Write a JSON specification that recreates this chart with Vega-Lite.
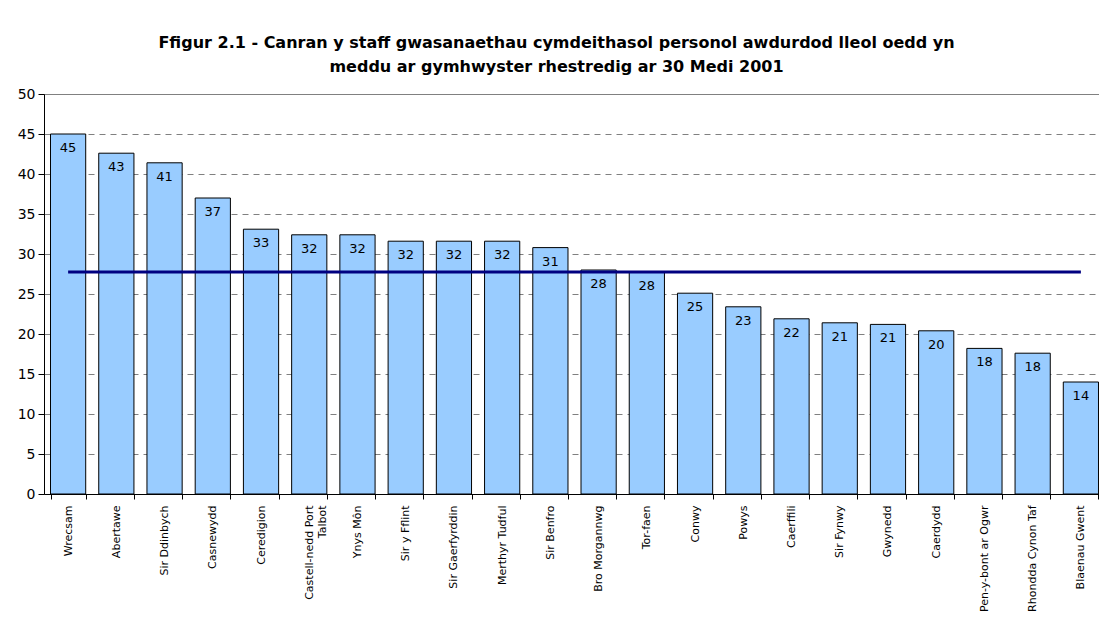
{
  "$schema": "https://vega.github.io/schema/vega-lite/v6.json",
  "autosize": "none",
  "width": 1061,
  "height": 400,
  "padding": {"left": 44, "top": 94, "right": 0, "bottom": 130},
  "background": "white",
  "config": {
    "font": "DejaVu Sans",
    "view": {"stroke": "#808080", "strokeWidth": 1}
  },
  "title": {
    "text": ["Ffigur 2.1 - Canran y staff gwasanaethau cymdeithasol personol awdurdod lleol oedd yn", "meddu ar gymhwyster rhestredig ar 30 Medi 2001"],
    "font": "DejaVu Sans",
    "fontSize": 16,
    "fontWeight": "bold",
    "color": "black",
    "anchor": "middle",
    "frame": "group",
    "lineHeight": 24,
    "offset": 12,
    "dx": -18
  },
  "data": {
    "values": [
      {"awdurdod": "Wrecsam", "canran": 45.0, "cyfartaledd": 27.75},
      {"awdurdod": "Abertawe", "canran": 42.6, "cyfartaledd": 27.75},
      {"awdurdod": "Sir Ddinbych", "canran": 41.4, "cyfartaledd": 27.75},
      {"awdurdod": "Casnewydd", "canran": 37.0, "cyfartaledd": 27.75},
      {"awdurdod": "Ceredigion", "canran": 33.1, "cyfartaledd": 27.75},
      {"awdurdod": "Castell-nedd Port Talbot", "canran": 32.4, "cyfartaledd": 27.75},
      {"awdurdod": "Ynys Môn", "canran": 32.4, "cyfartaledd": 27.75},
      {"awdurdod": "Sir y Fflint", "canran": 31.6, "cyfartaledd": 27.75},
      {"awdurdod": "Sir Gaerfyrddin", "canran": 31.6, "cyfartaledd": 27.75},
      {"awdurdod": "Merthyr Tudful", "canran": 31.6, "cyfartaledd": 27.75},
      {"awdurdod": "Sir Benfro", "canran": 30.8, "cyfartaledd": 27.75},
      {"awdurdod": "Bro Morgannwg", "canran": 28.0, "cyfartaledd": 27.75},
      {"awdurdod": "Tor-faen", "canran": 27.7, "cyfartaledd": 27.75},
      {"awdurdod": "Conwy", "canran": 25.1, "cyfartaledd": 27.75},
      {"awdurdod": "Powys", "canran": 23.4, "cyfartaledd": 27.75},
      {"awdurdod": "Caerffili", "canran": 21.9, "cyfartaledd": 27.75},
      {"awdurdod": "Sir Fynwy", "canran": 21.4, "cyfartaledd": 27.75},
      {"awdurdod": "Gwynedd", "canran": 21.2, "cyfartaledd": 27.75},
      {"awdurdod": "Caerdydd", "canran": 20.4, "cyfartaledd": 27.75},
      {"awdurdod": "Pen-y-bont ar Ogwr", "canran": 18.2, "cyfartaledd": 27.75},
      {"awdurdod": "Rhondda Cynon Taf", "canran": 17.6, "cyfartaledd": 27.75},
      {"awdurdod": "Blaenau Gwent", "canran": 14.0, "cyfartaledd": 27.75}
    ]
  },
  "encoding": {
    "x": {
      "field": "awdurdod",
      "type": "nominal",
      "sort": null,
      "title": null,
      "scale": {"paddingInner": 0.27, "paddingOuter": 0.135},
      "axis": {
        "labelAngle": -90,
        "labelAlign": "right",
        "labelBaseline": "middle",
        "labelFont": "DejaVu Sans",
        "labelFontSize": 11,
        "labelColor": "black",
        "labelPadding": 6,
        "labelLimit": 200,
        "labelExpr": "datum.value == 'Castell-nedd Port Talbot' ? ['Castell-nedd Port', 'Talbot'] : datum.value",
        "domainColor": "black",
        "tickColor": "black",
        "tickSize": 5,
        "tickBand": "extent",
        "grid": false
      }
    },
    "y": {
      "field": "canran",
      "type": "quantitative",
      "title": null,
      "scale": {"domain": [0, 50]},
      "axis": {
        "values": [0, 5, 10, 15, 20, 25, 30, 35, 40, 45, 50],
        "labelOverlap": false,
        "labelFont": "DejaVu Sans",
        "labelFontSize": 14,
        "labelColor": "black",
        "labelPadding": 3,
        "domainColor": "black",
        "tickColor": "black",
        "tickSize": 6,
        "grid": true,
        "gridColor": "#808080",
        "gridDash": [6, 5],
        "gridWidth": 1
      }
    }
  },
  "layer": [
    {
      "mark": {"type": "bar", "fill": "#99CCFF", "stroke": "black", "strokeWidth": 1}
    },
    {
      "mark": {"type": "text", "baseline": "top", "dy": 8, "fontSize": 13, "font": "DejaVu Sans", "color": "black"},
      "encoding": {
        "text": {"field": "canran", "type": "quantitative", "format": ".0f"}
      }
    },
    {
      "mark": {"type": "line", "color": "#000080", "strokeWidth": 3},
      "encoding": {
        "y": {"field": "cyfartaledd", "type": "quantitative"}
      }
    }
  ]
}
